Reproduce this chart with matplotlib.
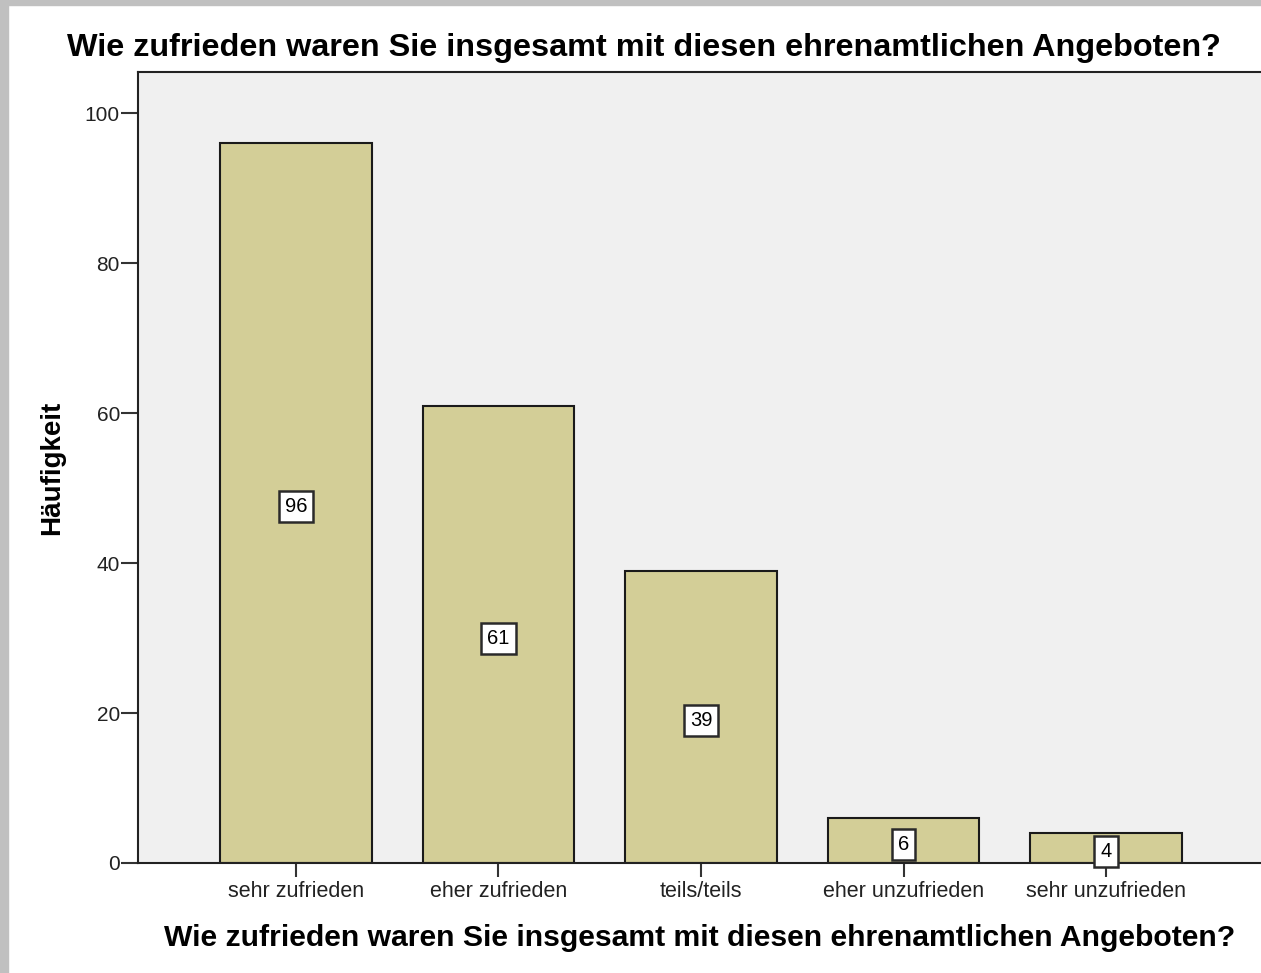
"""SPSS-style frequency bar chart: satisfaction with volunteer offers."""
import matplotlib
matplotlib.use('Agg')
import matplotlib.pyplot as plt
from matplotlib.patches import Rectangle

categories = ['sehr zufrieden', 'eher zufrieden', 'teils/teils',
              'eher unzufrieden', 'sehr unzufrieden']
counts = [96, 61, 39, 6, 4]
y_ticks = [0, 20, 40, 60, 80, 100]

title = 'Wie zufrieden waren Sie insgesamt mit diesen ehrenamtlichen Angeboten?'

plt.rcParams['font.family'] = ['Liberation Sans', 'DejaVu Sans']

W, H = 1261, 973
fig = plt.figure(figsize=(W / 100, H / 100), dpi=100, facecolor='white')
ax = fig.add_axes([138 / W, 1 - 863 / H, 1 - 138 / W, (863 - 72) / H])
ax.set_facecolor('#F0F0F0')

x = list(range(len(categories)))
ax.bar(x, counts, width=0.75, color='#D3CE97', edgecolor='#1a1a1a',
       linewidth=1.5, zorder=2)

for xi, c in zip(x, counts):
    ax.text(xi, c / 2 - 0.5, str(c), ha='center', va='center', fontsize=14.5,
            zorder=4,
            bbox=dict(boxstyle='square,pad=0.3', facecolor='white',
                      edgecolor='#2a2a2a', linewidth=1.8))

ax.set_xlim(-0.78, 4.765)
ax.set_ylim(0, 105.5)
ax.set_xticks(x)
ax.set_xticklabels(categories, fontsize=15.5, color='#222222')
ax.set_yticks(y_ticks)
ax.set_yticklabels([str(t) for t in y_ticks], fontsize=15, color='#222222')
ax.tick_params(axis='y', length=12, width=1.5, color='#333333', pad=1)
ax.tick_params(axis='x', length=10, width=1.5, color='#333333', pad=3)

for side in ['left', 'bottom', 'top']:
    ax.spines[side].set_color('#222222')
    ax.spines[side].set_linewidth(1.5)
ax.spines['right'].set_visible(False)

ax.set_ylabel('Häufigkeit', fontsize=20, fontweight='bold', labelpad=14)
ax.set_xlabel(title, fontsize=21.7, fontweight='bold', labelpad=16)
fig.text(644 / W, 1 - 48 / H, title, ha='center', va='center',
         fontsize=23.3, fontweight='bold')

# grey frame at top and left edge
fig.add_artist(Rectangle((0, 0), 8 / W, 1, transform=fig.transFigure,
                         color='#C0C0C0', zorder=10))
fig.add_artist(Rectangle((0, 1 - 5 / H), 1, 5 / H, transform=fig.transFigure,
                         color='#C0C0C0', zorder=10))

fig.savefig('out.png', dpi=100, facecolor='white')
